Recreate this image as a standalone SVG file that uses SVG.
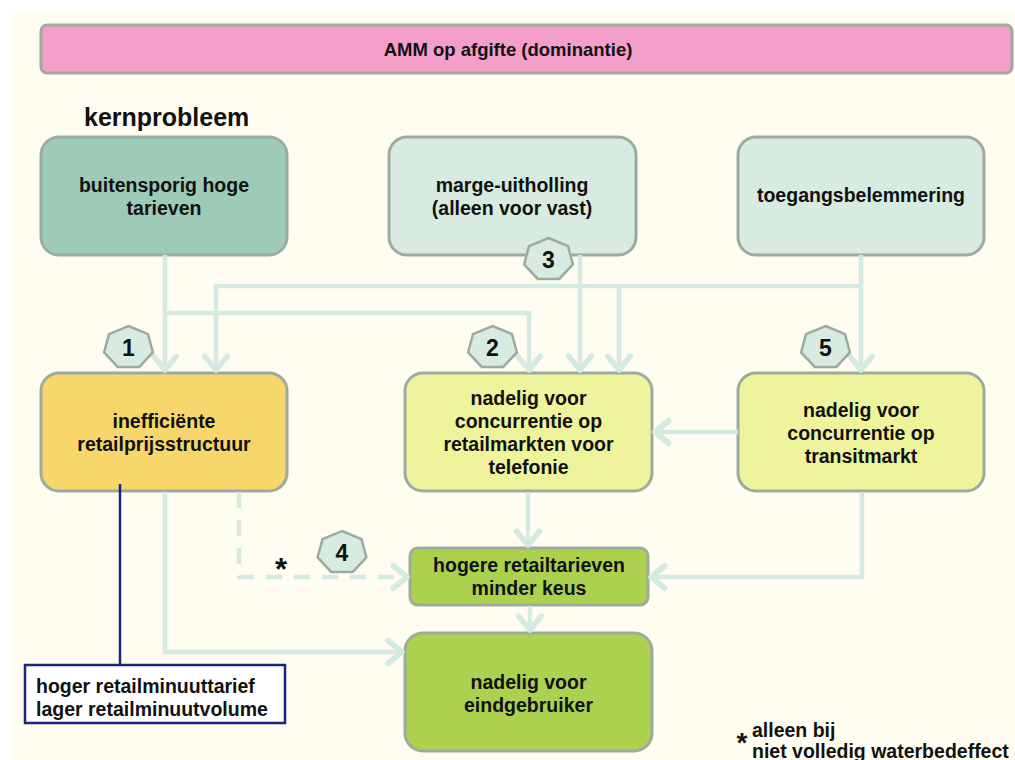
<svg xmlns="http://www.w3.org/2000/svg" width="1015" height="760" viewBox="0 0 1015 760">
  <style>
    text { font-family: "Liberation Sans", Arial, sans-serif; font-weight: bold; fill: #111; }
    .lbl { font-size: 19.5px; text-anchor: middle; }
    .box { stroke: #9dab9f; stroke-width: 3; }
    .root { fill: #9dcbb8; }
    .cause { fill: #d8ebe0; }
    .ineff { fill: #f7d66b; }
    .pale { fill: #eff39b; }
    .green { fill: #acd14f; }
    .conn { fill: none; stroke: #d5ebe1; stroke-width: 4.5; }
    .dash { stroke-dasharray: 16 12; }
    .badge { fill: #d8ebe0; stroke: #9dab9f; stroke-width: 2.5; }
    .num { font-size: 23px; text-anchor: middle; }
    .star { font-size: 31px; text-anchor: middle; }
  </style>
  <defs>
    <marker id="arr" markerUnits="userSpaceOnUse" markerWidth="30" markerHeight="30" refX="0" refY="0" viewBox="-14 -12 16 24" orient="auto" overflow="visible">
      <path d="M-11,-9 L0,0 L-11,9" fill="none" stroke="#d5ebe1" stroke-width="4.5" stroke-dasharray="none" stroke-linecap="round" stroke-linejoin="round"/>
    </marker>
    <polygon id="hept" points="0,-21.5 19.5,-13.4 24.4,4.8 10.8,19.4 -10.8,19.4 -24.4,4.8 -19.5,-13.4"/>
  </defs>

  <!-- page -->
  <rect x="0" y="0" width="1015" height="760" fill="#ffffff"/>
  <rect x="10" y="10" width="1005" height="750" fill="#fffdf0"/>

  <!-- banner -->
  <g id="banner">
    <rect x="41" y="25" width="971" height="48" rx="6" fill="#f49fca" class="box"/>
    <text x="508" y="56" style="font-size:18.5px" text-anchor="middle">AMM op afgifte (dominantie)</text>
  </g>

  <text x="84" y="126" style="font-size:25px">kernprobleem</text>

  <!-- nodes -->
  <g id="node-tarieven">
    <rect x="41" y="137" width="246" height="118" rx="18" class="box root"/>
    <text class="lbl" x="164" y="192">buitensporig hoge</text>
    <text class="lbl" x="164" y="215">tarieven</text>
  </g>
  <g id="node-marge">
    <rect x="389" y="137" width="247" height="118" rx="18" class="box cause"/>
    <text class="lbl" x="512" y="192">marge-uitholling</text>
    <text class="lbl" x="512" y="215">(alleen voor vast)</text>
  </g>
  <g id="node-toegang">
    <rect x="738" y="137" width="246" height="118" rx="18" class="box cause"/>
    <text class="lbl" x="861" y="202">toegangsbelemmering</text>
  </g>
  <g id="node-ineff">
    <rect x="41" y="373" width="246" height="118" rx="18" class="box ineff"/>
    <text class="lbl" x="164" y="428">inefficiënte</text>
    <text class="lbl" x="164" y="451">retailprijsstructuur</text>
  </g>
  <g id="node-telefonie">
    <rect x="405" y="373" width="247" height="118" rx="18" class="box pale"/>
    <text class="lbl" x="528.5" y="405">nadelig voor</text>
    <text class="lbl" x="528.5" y="428">concurrentie op</text>
    <text class="lbl" x="528.5" y="451">retailmarkten voor</text>
    <text class="lbl" x="528.5" y="474">telefonie</text>
  </g>
  <g id="node-transit">
    <rect x="738" y="373" width="246" height="118" rx="18" class="box pale"/>
    <text class="lbl" x="861" y="417">nadelig voor</text>
    <text class="lbl" x="861" y="440">concurrentie op</text>
    <text class="lbl" x="861" y="463">transitmarkt</text>
  </g>
  <g id="node-hogere">
    <rect x="410" y="548" width="238" height="57" rx="8" class="box green"/>
    <text class="lbl" x="529" y="572">hogere retailtarieven</text>
    <text class="lbl" x="529" y="595">minder keus</text>
  </g>
  <g id="node-eindgebruiker">
    <rect x="405" y="633" width="247" height="118" rx="18" class="box green"/>
    <text class="lbl" x="528.5" y="689">nadelig voor</text>
    <text class="lbl" x="528.5" y="712">eindgebruiker</text>
  </g>
  <g id="node-minuut">
    <rect x="25" y="665" width="260" height="58" fill="#ffffff" stroke="#1a2580" stroke-width="2.5"/>
    <text x="36" y="693" style="font-size:19.5px">hoger retailminuuttarief</text>
    <text x="36" y="716" style="font-size:19.5px">lager retailminuutvolume</text>
  </g>

  <!-- connectors -->
  <g id="connectors">
    <path class="conn" d="M165,255 V370" marker-end="url(#arr)"/>
    <path class="conn" d="M165,313 H529 V370" marker-end="url(#arr)"/>
    <path class="conn" d="M859,286 H216 V370" marker-end="url(#arr)"/>
    <path class="conn" d="M619,286 V370" marker-end="url(#arr)"/>
    <path class="conn" d="M580,255 V370" marker-end="url(#arr)"/>
    <path class="conn" d="M861,255 V370" marker-end="url(#arr)"/>
    <path class="conn" d="M738,432 H655" marker-end="url(#arr)"/>
    <path class="conn" d="M528,492 V545" marker-end="url(#arr)"/>
    <path class="conn" d="M862,492 V577 H651" marker-end="url(#arr)"/>
    <path class="conn dash" d="M239,492 V577 H407" marker-end="url(#arr)"/>
    <path class="conn" d="M165,492 V652 H402" marker-end="url(#arr)"/>
    <path class="conn" d="M530,606 V630" marker-end="url(#arr)"/>
    <path d="M120,484 V665" fill="none" stroke="#1a2580" stroke-width="2.5"/>
  </g>

  <!-- numbered badges -->
  <g id="badge-1"><use href="#hept" x="128.5" y="347.5" class="badge"/><text class="num" x="128.5" y="356">1</text></g>
  <g id="badge-2"><use href="#hept" x="492.5" y="347.5" class="badge"/><text class="num" x="492.5" y="356">2</text></g>
  <g id="badge-3"><use href="#hept" x="548.5" y="259.5" class="badge"/><text class="num" x="548.5" y="268">3</text></g>
  <g id="badge-4"><use href="#hept" x="342" y="552.5" class="badge"/><text class="num" x="342" y="561">4</text></g>
  <g id="badge-5"><use href="#hept" x="825.5" y="347.5" class="badge"/><text class="num" x="825.5" y="356">5</text></g>

  <!-- footnote marker and legend -->
  <text class="star" x="281" y="580">*</text>
  <text x="742" y="752" style="font-size:28px" text-anchor="middle">*</text>
  <text x="752" y="737" style="font-size:19.5px">alleen bij</text>
  <text x="752" y="758" style="font-size:19.5px">niet volledig waterbedeffect</text>
</svg>
